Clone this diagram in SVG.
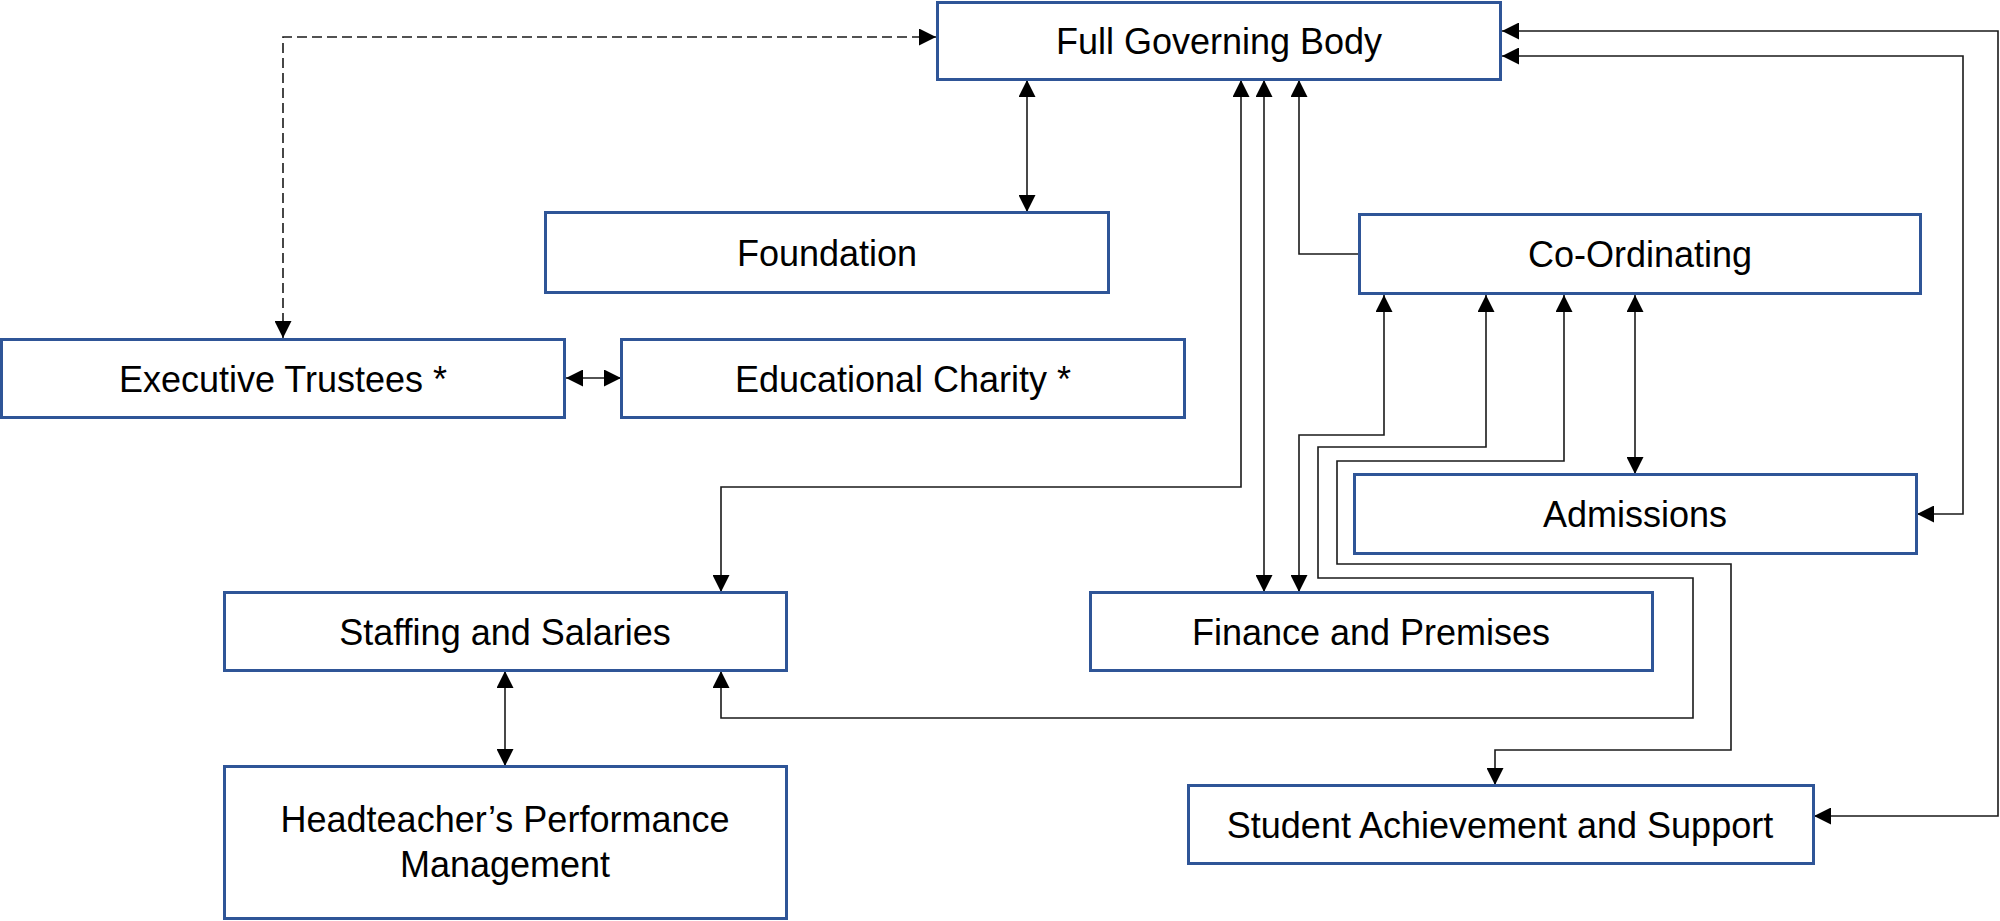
<svg xmlns="http://www.w3.org/2000/svg" width="2000" height="921" viewBox="0 0 2000 921">
<style>
.box{fill:#ffffff;stroke:#2F5597;stroke-width:3}
.lbl{font-family:"Liberation Sans",Arial,sans-serif;font-size:36px;fill:#000;text-anchor:middle}
.c{fill:none;stroke:#1a1a1a;stroke-width:1.6}
.d{stroke-dasharray:10 5}
.a2{marker-start:url(#ah);marker-end:url(#ah)}
.a1{marker-end:url(#ah)}
</style>
<defs>
<marker id="ah" markerUnits="userSpaceOnUse" markerWidth="17" markerHeight="17" refX="17" refY="8.5" orient="auto-start-reverse" viewBox="0 0 17 17">
<path d="M0,0 L17,8.5 L0,17 z" fill="#000"/>
</marker>
</defs>
<rect width="2000" height="921" fill="#ffffff"/>
<g id="connectors">
<path class="c d a2" d="M283,338 V37 H936"/>
<path class="c a2" d="M1027,80 V212"/>
<path class="c a2" d="M566,378 H621"/>
<path class="c a2" d="M721,592 V487 H1241 V80"/>
<path class="c a2" d="M1264,80 V592"/>
<path class="c a1" d="M1358,254 H1299 V80"/>
<path class="c a2" d="M1299,592 V435 H1384 V295"/>
<path class="c a2" d="M721,671 V718 H1693 V578 H1318 V447 H1486 V295"/>
<path class="c a2" d="M1495,785 V750 H1731 V564 H1337 V461 H1564 V295"/>
<path class="c a2" d="M1635,295 V474"/>
<path class="c a2" d="M1502,56 H1963 V514 H1917"/>
<path class="c a2" d="M1502,31 H1998 V816 H1814"/>
<path class="c a2" d="M505,671 V766"/>
</g>
<g id="fgb"><rect class="box" x="937.5" y="2.5" width="563" height="77"/><text class="lbl" x="1219" y="54">Full Governing Body</text></g>
<g id="foundation"><rect class="box" x="545.5" y="212.5" width="563" height="80"/><text class="lbl" x="827" y="265.5">Foundation</text></g>
<g id="executive-trustees"><rect class="box" x="1.5" y="339.5" width="563" height="78"/><text class="lbl" x="283" y="391.5">Executive Trustees *</text></g>
<g id="educational-charity"><rect class="box" x="621.5" y="339.5" width="563" height="78"/><text class="lbl" x="903" y="391.5">Educational Charity *</text></g>
<g id="co-ordinating"><rect class="box" x="1359.5" y="214.5" width="561" height="79"/><text class="lbl" x="1640" y="267">Co-Ordinating</text></g>
<g id="admissions"><rect class="box" x="1354.5" y="474.5" width="562" height="79"/><text class="lbl" x="1635" y="527">Admissions</text></g>
<g id="staffing"><rect class="box" x="224.5" y="592.5" width="562" height="78"/><text class="lbl" x="505" y="644.5">Staffing and Salaries</text></g>
<g id="finance"><rect class="box" x="1090.5" y="592.5" width="562" height="78"/><text class="lbl" x="1371" y="644.5">Finance and Premises</text></g>
<g id="student"><rect class="box" x="1188.5" y="785.5" width="625" height="78"/><text class="lbl" x="1500" y="837.5">Student Achievement and Support</text></g>
<g id="headteacher"><rect class="box" x="224.5" y="766.5" width="562" height="152"/><text class="lbl" x="505" y="832">Headteacher’s Performance</text><text class="lbl" x="505" y="877">Management</text></g>
</svg>
